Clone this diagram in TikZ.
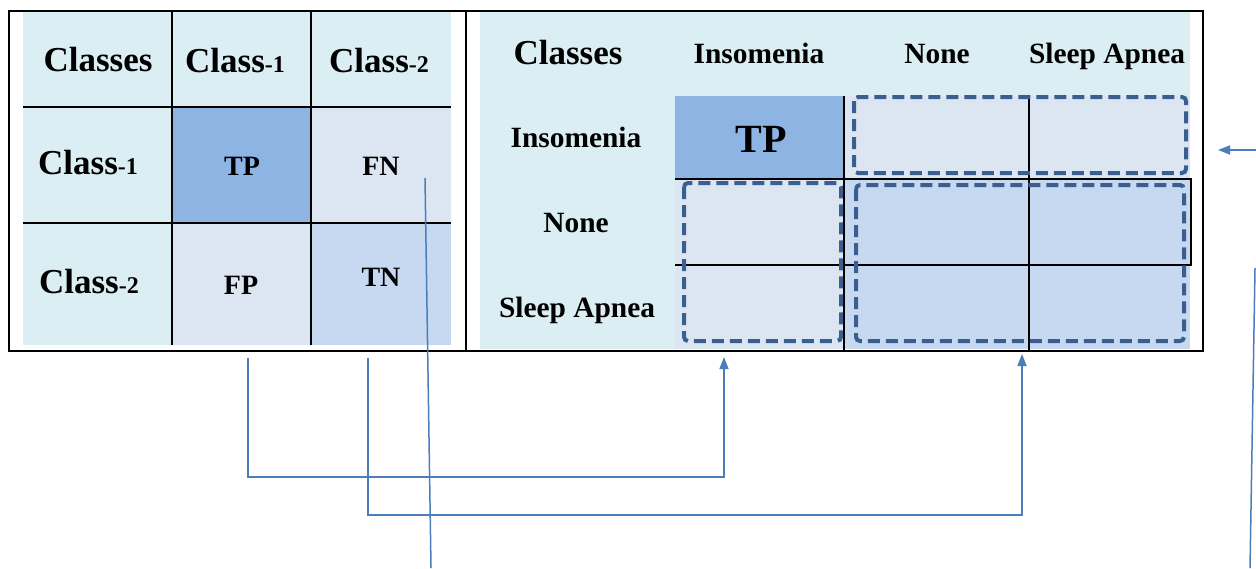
\documentclass[tikz,border=0pt]{standalone}
\usepackage{fontspec}
\setmainfont{Liberation Serif}
\usetikzlibrary{arrows.meta}

\definecolor{cellcyan}{HTML}{DAEEF3}
\definecolor{tpblue}{HTML}{8EB4E3}
\definecolor{errcell}{HTML}{DCE6F2}
\definecolor{tnblue}{HTML}{C6D9F1}
\definecolor{groupblue}{HTML}{3A5F8F}
\definecolor{linkblue}{HTML}{4A7EBB}

\newcommand{\minus}[1]{{\fontsize{12}{12}\selectfont-#1}}

\begin{document}
\begin{tikzpicture}[x=0.5pt, y=-0.5pt,
    gridline/.style={line width=0.7pt},
    hdr/.style={font=\fontsize{17.5}{20}\selectfont\bfseries, anchor=base, inner sep=0pt},
    lbl/.style={font=\fontsize{14.7}{17}\selectfont\bfseries, anchor=base, inner sep=0pt},
    val/.style={font=\fontsize{14}{16}\selectfont\bfseries, anchor=base, inner sep=0pt},
    group/.style={draw=groupblue, line width=2pt, dash pattern=on 6pt off 3pt, rounded corners=2pt},
    link/.style={draw=linkblue, line width=0.75pt},
    tip/.style={-{Triangle[length=6pt,width=4.5pt]}}]
    \useasboundingbox (0,0) rectangle (1256,568);

    % binary matrix
    \fill[cellcyan] (23,12) rectangle (451,345);
    \fill[tpblue] (172,107) rectangle (311,223);
    \fill[errcell] (311,107) rectangle (451,223);
    \fill[errcell] (172,223) rectangle (311,345);
    \fill[tnblue] (311,223) rectangle (451,345);
    \draw[gridline] (172,12) -- (172,345);
    \draw[gridline] (311,12) -- (311,345);
    \draw[gridline] (23,107) -- (451,107);
    \draw[gridline] (23,223) -- (451,223);

    \node[hdr] (bin classes) at (98,71) {Classes};
    \node[hdr] (bin col1) at (235,72) {Class\minus{1}};
    \node[hdr] (bin col2) at (379,72) {Class\minus{2}};
    \node[hdr] (bin row1) at (88,174) {Class\minus{1}};
    \node[hdr] (bin row2) at (89,293) {Class\minus{2}};
    \node[val] (bin tp) at (242,175) {TP};
    \node[val] (bin fn) at (381,175) {FN};
    \node[val] (bin fp) at (241,294) {FP};
    \node[val] (bin tn) at (381,286) {TN};

    % multi-class matrix
    \fill[cellcyan] (480,12) rectangle (1190,349);
    \fill[tpblue] (675,96) rectangle (844,179);
    \fill[errcell] (844,96) rectangle (1190,179);
    \fill[errcell] (675,179) rectangle (844,349);
    \fill[tnblue] (844,179) rectangle (1190,349);
    \draw[gridline] (844,96) -- (844,351);
    \draw[gridline] (1029,98) -- (1029,351);
    \draw[gridline] (675,179) -- (1191,179) -- (1191,265) -- (675,265);

    \node[hdr] (mc classes) at (568,64) {Classes};
    \node[lbl] (mc col1) at (759,63) {Insomenia};
    \node[lbl] (mc col2) at (937,63) {None};
    \node[lbl] (mc col3) at (1107,63) {Sleep Apnea};
    \node[lbl] (mc row1) at (576,147) {Insomenia};
    \node[lbl] (mc row2) at (576,232) {None};
    \node[lbl] (mc row3) at (577,317) {Sleep Apnea};
    \node[font=\fontsize{20}{22}\selectfont\bfseries, anchor=base, inner sep=0pt]
        (mc tp) at (761,152) {TP};

    \draw[group] (854,97) rectangle (1186,173);
    \draw[group] (684,183) rectangle (841,341);
    \draw[group] (856,185) rectangle (1184,341);

    % frame
    \draw[line width=1pt] (9,11) rectangle (1203,351);
    \draw[line width=1pt] (466,11) -- (466,351);

    % connectors
    \coordinate (fp out) at (248,358);
    \coordinate (fp in) at (724,357);
    \coordinate (tn out) at (368,358);
    \coordinate (tn in) at (1022,354);
    \coordinate (fn top) at (425,178);
    \coordinate (fn end) at (431,568);
    \coordinate (fn side) at (1256,150);
    \coordinate (fn row) at (1218,150);
    \coordinate (edge top) at (1255,268);
    \coordinate (edge end) at (1250,568);

    \draw[link, tip] (fp out) -- ++(0,119) -| (fp in);
    \draw[link, tip] (tn out) -- ++(0,157) -| (tn in);
    \draw[link] (fn top) -- (fn end);
    \draw[link, tip] (fn side) -- (fn row);
    \draw[link] (edge top) -- (edge end);
\end{tikzpicture}
\end{document}
